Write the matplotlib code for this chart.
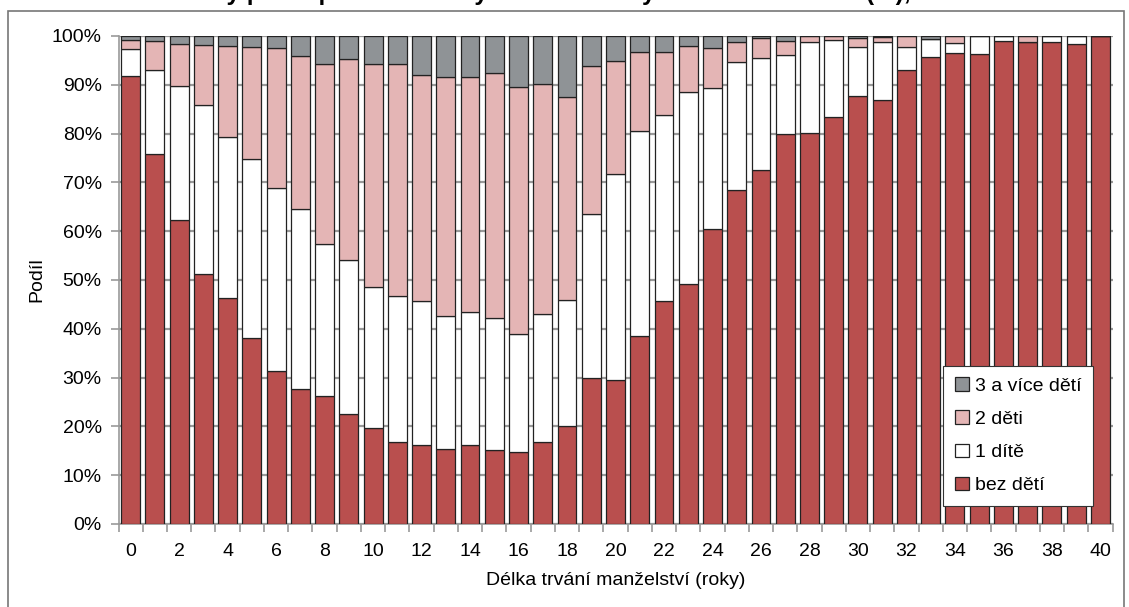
import matplotlib.pyplot as plt
from matplotlib.patches import Rectangle
import numpy as np

plt.rcParams['font.family'] = ['Liberation Sans', 'DejaVu Sans']

# délka trvání manželství v letech
years = list(range(41))

bez_deti = [91.8, 75.8, 62.2, 51.3, 46.3, 38.2, 31.3, 27.7, 26.2, 22.6,
            19.7, 16.9, 16.1, 15.4, 16.1, 15.2, 14.7, 16.8, 20.0, 30.0,
            29.6, 38.5, 45.6, 49.1, 60.5, 68.5, 72.5, 80.0, 80.2, 83.5,
            87.8, 86.8, 93.1, 95.6, 96.6, 96.3, 99.0, 98.7, 98.8, 98.4,
            100.0]
jedno_dite = [5.5, 17.2, 27.5, 34.5, 33.0, 36.5, 37.5, 36.8, 31.1, 31.5,
              28.8, 29.9, 29.6, 27.3, 27.3, 27.1, 24.3, 26.2, 25.9, 33.5,
              42.1, 42.0, 38.2, 39.4, 28.9, 26.1, 22.9, 16.2, 18.6, 15.6,
              9.9, 11.9, 4.7, 3.7, 2.0, 3.7, 1.0, 0.0, 1.2, 1.6,
              0.0]
dve_deti = [1.9, 6.0, 8.7, 12.3, 18.6, 23.1, 28.8, 31.5, 36.9, 41.2,
            45.8, 47.5, 46.3, 48.8, 48.3, 50.1, 50.6, 47.2, 41.6, 30.4,
            23.2, 16.2, 13.0, 9.4, 8.1, 4.2, 4.2, 2.7, 1.2, 0.9,
            1.8, 1.0, 2.2, 0.0, 1.4, 0.0, 0.0, 1.3, 0.0, 0.0,
            0.0]
tri_a_vice = [100 - a - b - c for a, b, c in zip(bez_deti, jedno_dite, dve_deti)]

series = [bez_deti, jedno_dite, dve_deti, tri_a_vice]
labels = ['bez dětí', '1 dítě', '2 děti', '3 a více dětí']
colors = ['#B94F4E', '#FFFFFF', '#E4B5B5', '#8F9396']

fig = plt.figure(figsize=(11.29, 6.07), dpi=100)
ax = fig.add_axes([118.5 / 1129, 83 / 607, 994 / 1129, 488 / 607])

# ramecek grafu a nadpis (v predloze oriznuty hornim okrajem)
fig.patches.append(Rectangle((8 / 1129, -0.1), 1116 / 1129, 1.1 - 11 / 607,
                             transform=fig.transFigure, fill=False,
                             edgecolor='#777777', linewidth=1.2))
fig.text(139 / 1129, 1.0,
         'Rozvody podle počtu nezletilých dětí a délky trvání manželství (%), 2009',
         ha='left', va='baseline', fontsize=17.5, fontweight='bold')

bottom = np.zeros(len(years))
bars = []
for vals, lab, col in zip(series, labels, colors):
    b = ax.bar(years, vals, width=0.78, bottom=bottom, color=col,
               edgecolor='#222222', linewidth=0.9, label=lab, zorder=3)
    bars.append(b)
    bottom += np.array(vals)

ax.set_xlim(-0.5, 40.5)
ax.set_ylim(0, 100)
ax.set_yticks(range(0, 101, 10))
ax.set_yticklabels([f'{v}%' for v in range(0, 101, 10)], fontsize=14)
ax.set_xticks(range(0, 41, 2))
ax.set_xticklabels([str(v) for v in range(0, 41, 2)], fontsize=14)
ax.set_xticks(np.arange(-0.5, 41, 1), minor=True)
ax.tick_params(axis='x', which='major', length=0, pad=14)
ax.tick_params(axis='x', which='minor', length=6, color='#999999', width=1.2)
ax.tick_params(axis='y', length=6, color='#999999', width=1.2, pad=6)

ax.grid(axis='y', color='#999999', linewidth=1.6, zorder=0)
for s in ['top', 'right']:
    ax.spines[s].set_visible(False)
ax.spines['left'].set_color('#999999')
ax.spines['bottom'].set_color('#999999')
ax.spines['left'].set_linewidth(1.2)
ax.spines['bottom'].set_linewidth(1.2)

ax.set_xlabel('Délka trvání manželství (roky)', fontsize=14, labelpad=8)
ax.set_ylabel('Podíl', fontsize=14, labelpad=5)

leg = ax.legend(bars[::-1], labels[::-1], loc='lower right',
                bbox_to_anchor=(0.99, 0.017), fontsize=14, frameon=True,
                fancybox=False, framealpha=1, edgecolor='#333333',
                handlelength=0.7, handleheight=0.7, handletextpad=0.3,
                labelspacing=0.8, borderpad=0.6)
leg.get_frame().set_linewidth(0.8)

fig.savefig('out.png', dpi=100)
